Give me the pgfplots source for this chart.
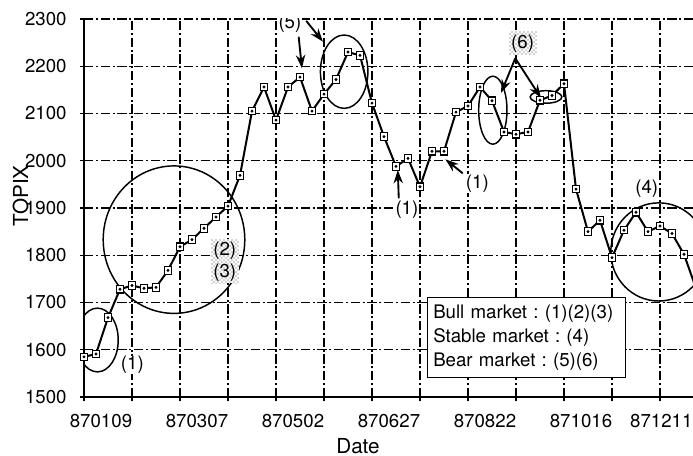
\documentclass[border=0pt]{standalone}
\usepackage{fontspec}
\setmainfont{TeX Gyre Heros}
\usepackage{pgfplots}
\usepackage{pgfplotstable}
\pgfplotsset{compat=1.18}
\usetikzlibrary{arrows.meta,patterns}

\pgfplotstableread{
week value
0 1585
1 1591
2 1668
3 1728
4 1736
5 1730
6 1732
7 1768
8 1818
9 1833
10 1857
11 1881
12 1904
13 1969
14 2105
15 2156
16 2086
17 2156
18 2177
19 2105
20 2141
21 2172
22 2230
23 2223
24 2122
25 2051
26 1988
27 2005
28 1945
29 2020
30 2020
31 2103
32 2116
33 2156
34 2127
35 2061
36 2056
37 2061
38 2128
39 2138
40 2163
41 1940
42 1850
43 1874
44 1795
45 1853
46 1891
47 1850
48 1862
49 1846
50 1802
51 1730
}\topix

\begin{document}
\frenchspacing
\begin{tikzpicture}[font=\fontsize{14}{16.8}\selectfont]
\begin{axis}[
  at={(0,0)}, anchor=south west,
  width=456.75pt, height=283.5pt, scale only axis,
  xmin=0, xmax=50.75, ymin=1500, ymax=2300,
  axis lines=left, axis line style={-, line width=1.1pt},
  xtick={0,8,...,48},
  xticklabels={870109,870307,870502,870627,870822,871016,{\kern-23.5pt 871211}},
  minor xtick={4,12,...,52},
  ytick={1500,1600,...,2300},
  grid=both,
  major grid style={line width=1pt, black, dash pattern=on 7pt off 2pt on 1.5pt off 2pt},
  minor grid style={line width=1pt, black, dash pattern=on 7pt off 2pt on 1.5pt off 2pt},
  tick align=center,
  major tick length=6pt, minor tick length=6pt,
  every tick/.style={line width=1.1pt, black},
  /pgf/number format/assume math mode=true,
  /pgf/number format/1000 sep={},
  scaled y ticks=false,
  tick label style={font=\fontsize{14}{16.8}\selectfont},
  yticklabel style={anchor=east, xshift=-6.5pt},
  xticklabel style={anchor=center, yshift=-14.8pt, xshift=12.75pt},
]
\addplot[black, line width=1.5pt, mark=square*, mark size=2.8pt,
  mark options={fill=white, line width=0.8pt, solid}] table[x=week, y=value] {\topix};
\addplot[black, only marks, mark=*, mark size=0.9pt] table[x=week, y=value] {\topix};

% ellipses
\draw[line width=1.1pt] (axis cs:1.12,1620.6) ellipse [x radius=15.6pt, y radius=23.9pt];
\draw[line width=1.1pt] (axis cs:7.5,1833) ellipse [x radius=53.1pt, y radius=55.3pt];
\draw[line width=1.1pt] (axis cs:21.68,2188.5) ellipse [x radius=17.8pt, y radius=27.5pt];
\draw[line width=1.1pt] (axis cs:34.07,2107) ellipse [x radius=10.6pt, y radius=25.5pt];
\draw[line width=1.1pt] (axis cs:38.5,2135) ellipse [x radius=11.9pt, y radius=4.7pt];
\draw[line width=1.1pt] (axis cs:47.9,1807) ellipse [x radius=36pt, y radius=36.8pt];

% arrows
\draw[line width=1.4pt, -{Stealth[length=10pt,width=7pt]}] (axis cs:17.89,2262.5) -- (axis cs:18.16,2195.7);
\draw[line width=1.4pt, -{Stealth[length=10pt,width=7pt]}] (axis cs:18.52,2296) -- (axis cs:19.91,2252);
\draw[line width=1.4pt, -{Stealth[length=10pt,width=7pt]}] (axis cs:35.94,2216.8) -- (axis cs:34.75,2143.5);
\draw[line width=1.4pt, -{Stealth[length=10pt,width=7pt]}] (axis cs:35.94,2216.8) -- (axis cs:38.08,2133);
\draw[line width=1.4pt, -{Stealth[length=10pt,width=7pt]}] (axis cs:26.23,1920.5) -- (axis cs:26.15,1980.4);
\draw[line width=1.4pt, -{Stealth[length=10pt,width=7pt]}] (axis cs:31.56,1973.4) -- (axis cs:30.12,2003);

% labels
\node[fill=white, inner sep=0.5pt] at (axis cs:17.16,2291) {(5)};
\node[fill=white, inner sep=0.5pt] at (axis cs:4.03,1567.7) {(1)};
\node[fill=white, inner sep=0.5pt] at (axis cs:26.91,1895.8) {(1)};
\node[fill=white, inner sep=0.5pt] at (axis cs:32.78,1952) {(1)};
\node[fill=white, inner sep=0.5pt] at (axis cs:46.9,1940) {(4)};
\node[fill=white, minimum width=21pt, minimum height=17.5pt, inner sep=0pt] (six) at (axis cs:36.55,2248.6) {};
\node[pattern=crosshatch dots, pattern color=black!75, minimum width=21pt, minimum height=17.5pt, inner sep=0pt]
  at (axis cs:36.55,2248.6) {(6)};
\node[fill=white, minimum width=21pt, minimum height=33pt, inner sep=0pt] at (axis cs:11.73,1787) {};
\node[pattern=crosshatch dots, pattern color=black!75, minimum width=21pt, minimum height=33pt, inner sep=0pt,
  align=center, font=\fontsize{14}{16.8}\selectfont] at (axis cs:11.73,1787) {(2)\\(3)};

% legend box
\node[draw=black, line width=0.8pt, fill=white, anchor=north west, align=left,
  text width=140pt, inner xsep=4.5pt, inner ysep=4.5pt, minimum height=59.6pt,
  font=\fontsize{14}{18}\selectfont] at (axis cs:28.56,1711)
  {Bull market : (1)(2)(3)\\Stable market : (4)\\Bear market : (5)(6)};
\end{axis}
\node[rotate=90, font=\fontsize{15.5}{18}\selectfont] at (-47.6pt,150.75pt) {TOPIX};
\node[font=\fontsize{15.5}{18}\selectfont] at (205.5pt,-36.75pt) {Date};
\pgfresetboundingbox
\path[use as bounding box] (-63pt,-44.25pt) rectangle (456.75pt,297.75pt);
\end{tikzpicture}
\end{document}
